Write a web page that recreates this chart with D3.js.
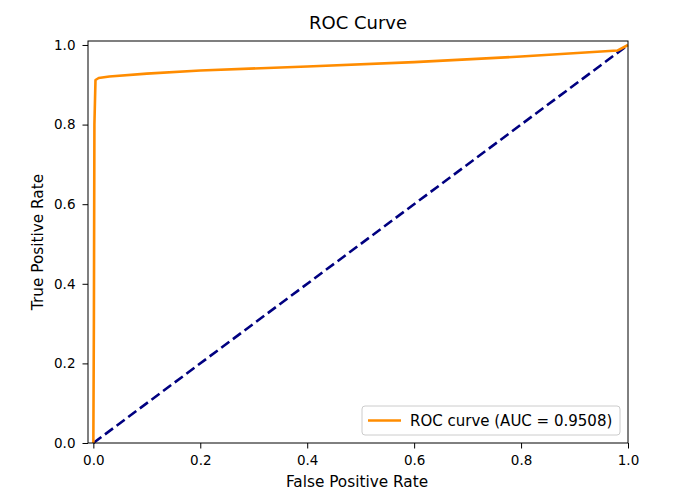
<!DOCTYPE html>
<html>
<head>
<meta charset="utf-8">
<script src="https://cdn.jsdelivr.net/npm/d3@7"></script>
<style>
  body { margin: 0; background: #fff; }
  text { font-family: "DejaVu Sans", sans-serif; fill: #000; }
</style>
</head>
<body>
<div id="myVis"></div>
<script>
var margin = {top: 41, right: 70, bottom: 58, left: 88},
    width = 698 - margin.left - margin.right,
    height = 501 - margin.top - margin.bottom;

// roc points
const fpr = [0, 0.001, 0.002, 0.004, 0.01, 0.03, 0.1, 0.2, 0.4, 0.6, 0.8, 0.98, 1.0];
const tpr = [0, 0.3, 0.8, 0.912, 0.917, 0.921, 0.928, 0.936, 0.946, 0.957, 0.971, 0.986, 1.0];
const diagX = [0, 1];
const diagY = [0, 1];
const ticks = [0, 0.2, 0.4, 0.6, 0.8, 1.0];
const aucLabel = "ROC curve (AUC = 0.9508)";

const svg = d3.select("#myVis")
    .append("svg")
        .attr("width", 698)
        .attr("height", 501);

const canvas = svg.append("g")
    .attr("transform", "translate(" + margin.left + "," + margin.top + ")");

var xScale = d3.scaleLinear()
    .domain([-0.01, 1.0])
    .range([0, width]);

var yScale = d3.scaleLinear()
    .domain([0, 1.01])
    .range([height, 0]);

// diagonal
canvas.append("path")
    .datum(diagX.map((d, i) => [d, diagY[i]]))
    .attr("fill", "none")
    .attr("stroke", "#000080")
    .attr("stroke-width", 2.6)
    .attr("stroke-dasharray", "10,4.5")
    .attr("d", d3.line().x(d => xScale(d[0])).y(d => yScale(d[1])));

// roc curve
canvas.append("path")
    .datum(fpr.map((d, i) => [d, tpr[i]]))
    .attr("fill", "none")
    .attr("stroke", "#ff8c00")
    .attr("stroke-width", 2.6)
    .attr("stroke-linejoin", "round")
    .attr("d", d3.line().x(d => xScale(d[0])).y(d => yScale(d[1])));

// frame
canvas.append("rect")
    .attr("width", width)
    .attr("height", height)
    .attr("fill", "none")
    .attr("stroke", "#000")
    .attr("stroke-width", 1);

const fmt = d3.format(".1f");

const xAxis = canvas.append("g")
    .attr("transform", "translate(0," + height + ")")
    .call(d3.axisBottom(xScale).tickValues(ticks).tickFormat(fmt).tickSize(5.5).tickPadding(7));

const yAxis = canvas.append("g")
    .call(d3.axisLeft(yScale).tickValues(ticks).tickFormat(fmt).tickSize(5.5).tickPadding(7));

[xAxis, yAxis].forEach(a => {
    a.select(".domain").remove();
    a.selectAll("text").style("font-size", "13.5px").style("font-family", "DejaVu Sans");
    a.selectAll("line").attr("stroke", "#000");
});

// labels
svg.append("text")
    .attr("x", margin.left + width / 2)
    .attr("y", 29)
    .attr("text-anchor", "middle")
    .style("font-size", "18px")
    .text("ROC Curve");

svg.append("text")
    .attr("x", margin.left + width / 2 - 1)
    .attr("y", 487)
    .attr("text-anchor", "middle")
    .style("font-size", "15.3px")
    .text("False Positive Rate");

svg.append("text")
    .attr("transform", "translate(43," + (margin.top + height / 2) + ") rotate(-90)")
    .attr("text-anchor", "middle")
    .style("font-size", "15.3px")
    .text("True Positive Rate");

// legend
const legend = canvas.append("g")
    .attr("transform", "translate(" + (width - 266) + "," + (height - 37) + ")");

legend.append("rect")
    .attr("width", 258)
    .attr("height", 29)
    .attr("rx", 3)
    .attr("fill", "#fff")
    .attr("fill-opacity", 0.8)
    .attr("stroke", "#ccc");

legend.append("line")
    .attr("x1", 6).attr("x2", 39)
    .attr("y1", 14.5).attr("y2", 14.5)
    .attr("stroke", "#ff8c00")
    .attr("stroke-width", 2.6);

legend.append("text")
    .attr("x", 48)
    .attr("y", 20)
    .style("font-size", "15px")
    .text(aucLabel);
</script>
</body>
</html>
